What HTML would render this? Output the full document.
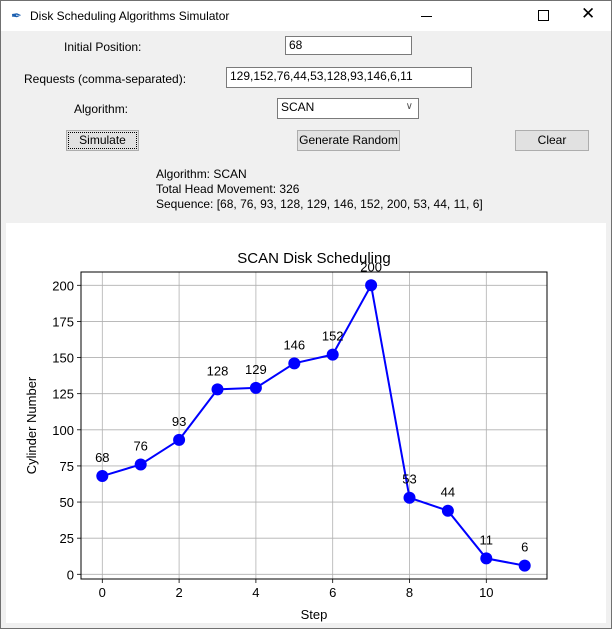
<!DOCTYPE html>
<html><head><meta charset="utf-8"><style>
body{margin:0;width:612px;height:629px;overflow:hidden;background:#f0f0f0;font-family:"Liberation Sans",sans-serif;font-size:12px;color:#000;position:relative}
.abs{position:absolute}
.win{position:absolute;left:0;top:0;width:610px;height:627px;border:1px solid #707070;}
.titlebar{left:1px;top:1px;width:610px;height:30px;background:#fff}
.entry{background:#fff;border:1px solid #7a7a7a;height:19px;box-sizing:border-box;padding:1px 3px;font-size:12px;line-height:15px}
.btn{background:#e1e1e1;border:1px solid #adadad;box-sizing:border-box;height:21px;text-align:center;line-height:19px;font-size:12px}
</style></head><body>
<div class="win"></div>
<div class="abs titlebar">
 <span class="abs" style="left:10px;top:7px;font-size:13px;color:#1b5fb0">&#x2712;</span>
 <span class="abs" style="left:29px;top:8px;font-size:12px">Disk Scheduling Algorithms Simulator</span>
 <span class="abs" style="left:420px;top:15px;width:11px;height:1px;background:#000"></span>
 <span class="abs" style="left:537px;top:9px;width:9px;height:9px;border:1px solid #000"></span>
 <span class="abs" style="left:580px;top:3px;font-size:17px">✕</span>
</div>
<span class="abs" style="left:64px;top:40px">Initial Position:</span>
<div class="abs entry" style="left:285px;top:36px;width:127px">68</div>
<span class="abs" style="left:24px;top:72px">Requests (comma-separated):</span>
<div class="abs entry" style="left:226px;top:67px;width:246px;height:21px">129,152,76,44,53,128,93,146,6,11</div>
<span class="abs" style="left:74px;top:102px">Algorithm:</span>
<div class="abs entry" style="left:277px;top:98px;width:142px;height:21px">SCAN<span class="abs" style="right:5px;top:0px;color:#555;font-size:10px">&#x2228;</span></div>
<div class="abs btn" style="left:66px;top:130px;width:73px;outline:1px dotted #000;outline-offset:-3px">Simulate</div>
<div class="abs btn" style="left:297px;top:130px;width:103px">Generate Random</div>
<div class="abs btn" style="left:515px;top:130px;width:74px">Clear</div>
<div class="abs" style="left:156px;top:167px;line-height:15px">Algorithm: SCAN<br>Total Head Movement: 326<br>Sequence: [68, 76, 93, 128, 129, 146, 152, 200, 53, 44, 11, 6]</div>
<div class="abs" style="left:6px;top:223px;width:600px;height:400px;background:#fff"></div>
<svg class="abs" style="left:0;top:0" width="612" height="629" id="chart"></svg>
<script>
const steps=[0,1,2,3,4,5,6,7,8,9,10,11];
const cylinders=[68,76,93,128,129,146,152,200,53,44,11,6];
const xTicks=[0,2,4,6,8,10];
const yTicks=[0,25,50,75,100,125,150,175,200];
const L=81,R=547,T=272,B=579;
const sx=v=>102.3+v*38.4;
const sy=v=>574.3-v*1.4450;
const svg=document.getElementById('chart');
const NS='http://www.w3.org/2000/svg';
function mk(t,a,txt){const e=document.createElementNS(NS,t);for(const k in a)e.setAttribute(k,a[k]);if(txt!==undefined)e.textContent=txt;svg.appendChild(e);return e;}
const F='font-family:"Liberation Sans","DejaVu Sans",sans-serif';
xTicks.forEach(v=>{
 const g=mk('line',{x1:sx(v),x2:sx(v),y1:T,y2:B,stroke:'#b0b0b0','stroke-width':0.8});
 
 
 const tk=mk('line',{x1:sx(v),x2:sx(v),y1:B,y2:B+4,stroke:'#000','stroke-width':0.8});
 
 
 const t=mk('text',{x:sx(v),y:B+18,'text-anchor':'middle','font-size':13,style:F},v);
 
 
});
yTicks.forEach(v=>{
 const g=mk('line',{x1:L,x2:R,y1:sy(v),y2:sy(v),stroke:'#b0b0b0','stroke-width':0.8});
 
 
 const tk=mk('line',{x1:L-4,x2:L,y1:sy(v),y2:sy(v),stroke:'#000','stroke-width':0.8});
 
 
 const t=mk('text',{x:L-7,y:sy(v)+5,'text-anchor':'end','font-size':13,style:F},v);
 
 
});
const fr=mk('rect',{x:L,y:T,width:R-L,height:B-T,fill:'none',stroke:'#000','stroke-width':1});


const line=mk('polyline',{points:steps.map((s,i)=>sx(s)+','+sy(cylinders[i])).join(' '),fill:'none',stroke:'#0000ff','stroke-width':2});


steps.forEach((s,i)=>{
 const c=mk('circle',{cx:sx(s),cy:sy(cylinders[i]),r:6,fill:'#0000ff'});
 
 
 const t=mk('text',{x:sx(s),y:sy(cylinders[i])-14,'text-anchor':'middle','font-size':13,style:F},cylinders[i]);
 
 
});
const ti=mk('text',{x:(L+R)/2,y:263,'text-anchor':'middle','font-size':15,style:F},'SCAN Disk Scheduling');


const xl=mk('text',{x:(L+R)/2,y:619,'text-anchor':'middle','font-size':13,style:F},'Step');


const yl=mk('text',{x:0,y:0,'text-anchor':'middle','font-size':13,style:F,transform:'translate(36,'+((T+B)/2)+') rotate(-90)'},'Cylinder Number');


</script>
</body></html>
